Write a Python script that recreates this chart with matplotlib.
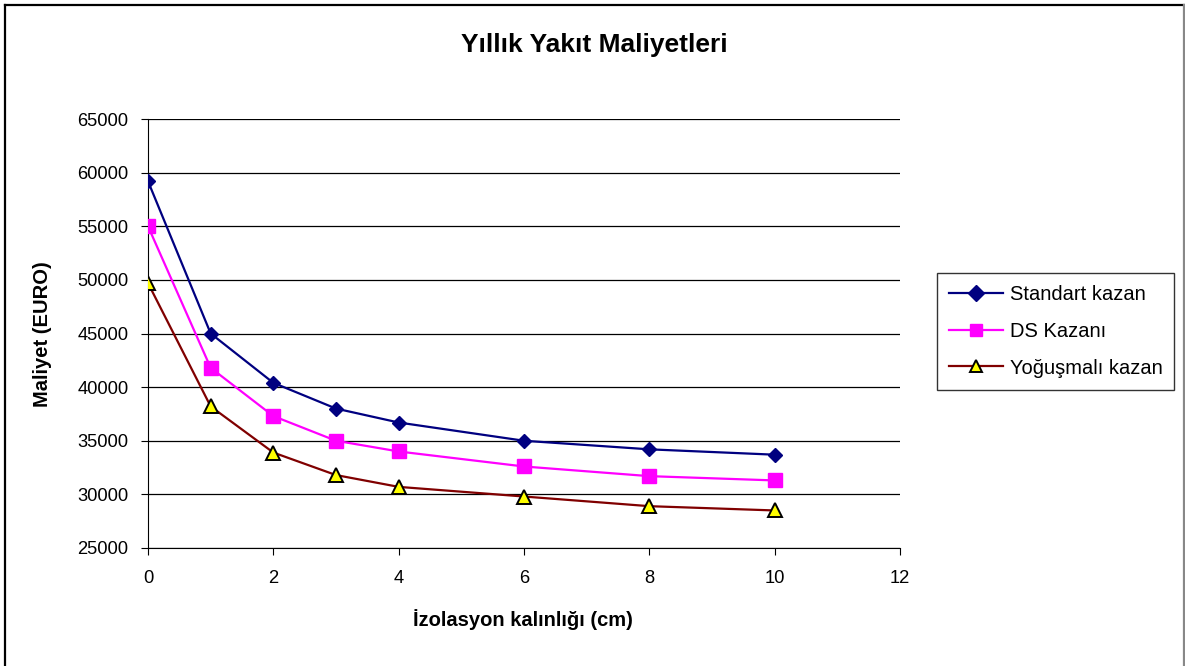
import matplotlib
matplotlib.use("Agg")
import matplotlib.pyplot as plt
from matplotlib.lines import Line2D

plt.rcParams['font.family'] = ['Liberation Sans', 'DejaVu Sans']

x = [0, 1, 2, 3, 4, 6, 8, 10]
standart = [59200, 45000, 40400, 38000, 36700, 35000, 34200, 33700]
ds = [55000, 41800, 37300, 35000, 34000, 32600, 31700, 31300]
yogusmali = [49700, 38200, 33900, 31800, 30700, 29800, 28900, 28500]
labels = ["Standart kazan", "DS Kazanı", "Yoğuşmalı kazan"]

W, H = 1185, 666
fig = plt.figure(figsize=(W / 100, H / 100), dpi=100)
ax = fig.add_axes([148 / W, 1 - 548 / H, (900 - 148) / W, (548 - 119) / H])

# outer chart border (left, top, right)
def fx(p):
    return p / W
def fy(p):
    return 1 - p / H
fig.add_artist(Line2D([fx(4.5), fx(4.5)], [fy(4.5), fy(670)], color='black', lw=1.6, transform=fig.transFigure))
fig.add_artist(Line2D([fx(4.5), fx(1184)], [fy(4.5), fy(4.5)], color='black', lw=1.6, transform=fig.transFigure))
fig.add_artist(Line2D([fx(1183.5), fx(1183.5)], [fy(4.5), fy(670)], color='#888888', lw=1.6, transform=fig.transFigure))

ax.plot(x, standart, color='#000080', marker='D', markersize=7.5, linewidth=1.6,
        markerfacecolor='#000080', markeredgecolor='#000080', label=labels[0], zorder=3)
ax.plot(x, ds, color='#FF00FF', marker='s', markersize=9.5, linewidth=1.6,
        markerfacecolor='#FF00FF', markeredgecolor='#FF00FF', label=labels[1], zorder=3)
ax.plot(x, yogusmali, color='#800000', marker='^', markersize=9.5, linewidth=1.6,
        markerfacecolor='#FFFF00', markeredgecolor='black', markeredgewidth=1.4,
        label=labels[2], zorder=3)

ax.set_xlim(0, 12)
ax.set_ylim(25000, 65000)
ax.set_xticks(range(0, 13, 2))
ax.set_yticks(range(25000, 65001, 5000))
ax.yaxis.grid(True, color='black', linewidth=0.9)
ax.set_axisbelow(True)
for s in ['top', 'right']:
    ax.spines[s].set_visible(False)
ax.spines['left'].set_color('black')
ax.spines['bottom'].set_color('black')
ax.tick_params(axis='both', labelsize=13.2, length=5, direction='out', colors='black')
ax.tick_params(axis='y', pad=9)
ax.tick_params(axis='x', pad=11)

ax.set_xlabel("İzolasyon kalınlığı (cm)", fontsize=14.5, fontweight='bold')
ax.xaxis.set_label_coords(523 / W, fy(620), transform=fig.transFigure)
ax.xaxis.label.set_va('center')
ax.set_ylabel("Maliyet (EURO)", fontsize=14.5, fontweight='bold')
ax.yaxis.set_label_coords(fx(43), fy(334), transform=fig.transFigure)
ax.yaxis.label.set_va('center')
fig.text(fx(594), fy(45), "Yıllık Yakıt Maliyetleri", fontsize=19,
         fontweight='bold', ha='center', va='center')

leg = fig.legend(loc='upper left', bbox_to_anchor=(fx(937), fy(273)),
                 fontsize=14.5, frameon=True, fancybox=False, edgecolor='black',
                 borderpad=0.6, labelspacing=0.88, handlelength=2.7, handletextpad=0.3,
                 borderaxespad=0)
leg.get_frame().set_linewidth(1)
for h in leg.legend_handles:
    h.set_markersize(8)

fig.savefig("out.png", dpi=100, facecolor='white')
